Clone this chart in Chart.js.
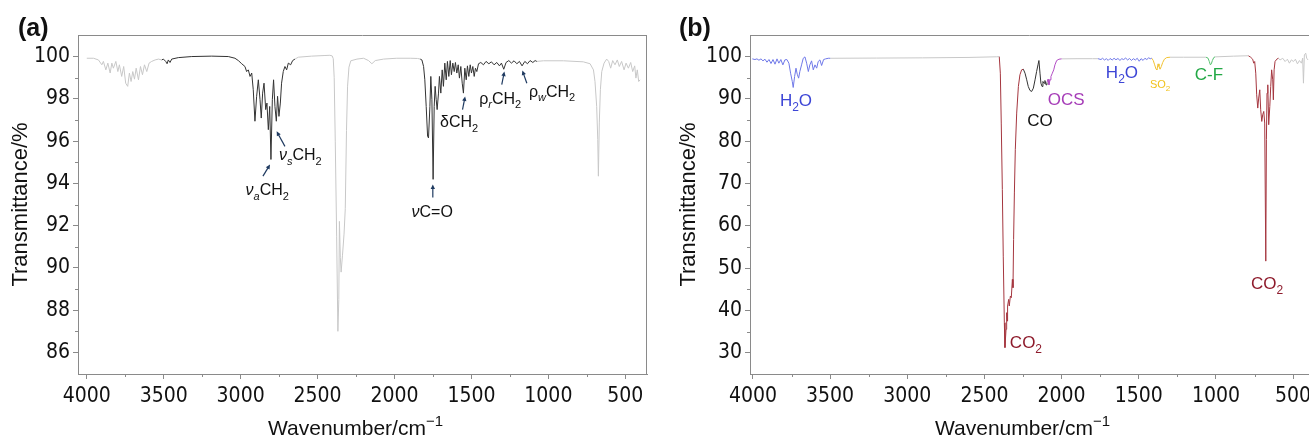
<!DOCTYPE html>
<html>
<head>
<meta charset="utf-8">
<script src="https://cdn.jsdelivr.net/npm/chart.js@4.4.1/dist/chart.umd.min.js"></script>
<style>
  body { margin: 0; background: #fff; }
  #wrap { position: relative; width: 1309px; height: 440px; overflow: hidden; }
  canvas { position: absolute; top: 0; }
  .tag { position: absolute; top: 13px; font: bold 25px "Liberation Sans", Arial, sans-serif; color: #111; }
</style>
</head>
<body>
<div id="wrap">
  <canvas id="chartA" width="655" height="440" style="left:0"></canvas>
  <canvas id="chartB" width="654" height="440" style="left:655px"></canvas>
  <div class="tag" style="left:18px">(a)</div>
  <div class="tag" style="left:679px">(b)</div>
</div>
<script>
// tick values
const xTicks = [4000, 3500, 3000, 2500, 2000, 1500, 1000, 500];
const xMinor = [3750, 3250, 2750, 2250, 1750, 1250, 750];
const yTicksA = [86, 88, 90, 92, 94, 96, 98, 100];
const yMinorA = [87, 89, 91, 93, 95, 97, 99];
const yTicksB = [30, 40, 50, 60, 70, 80, 90, 100];
const yMinorB = [35, 45, 55, 65, 75, 85, 95];

// panel (a) spectrum, [wavenumber, transmittance] split by colour
const grayA1 = [[4000,99.92],[3956,99.92],[3924,99.84],[3902,99.61],[3892,99.77],[3876,99.37],[3863,99.69],[3848,99.22],[3837,99.69],[3827,99.45],[3811,99.77],[3798,99.29],[3788,99.61],[3773,99.06],[3760,99.53],[3747,98.74],[3734,98.59],[3723,99.22],[3712,98.82],[3701,99.29],[3690,98.93],[3679,99.45],[3664,98.9],[3651,99.53],[3638,99.14],[3625,99.61],[3610,99.29],[3595,99.69],[3578,99.77],[3556,99.84],[3534,99.88],[3513,99.84]];
const darkA1 = [[3513,99.84],[3502,99.88],[3487,99.77],[3478,99.66],[3470,99.84],[3459,99.72],[3448,99.88],[3405,99.95],[3318,100.0],[3188,100.02],[3080,100.0],[3037,99.92],[3015,99.81],[2993,99.66],[2972,99.53],[2961,99.29],[2950,99.37],[2939,99.06],[2928,99.22],[2918,98.43],[2907,96.94],[2896,98.12],[2885,98.9],[2874,97.96],[2866,97.09],[2857,98.27],[2848,98.74],[2837,97.49],[2829,97.8],[2820,96.54],[2811,97.64],[2803,95.13],[2794,97.96],[2786,98.9],[2777,97.64],[2768,96.94],[2760,98.12],[2751,97.17],[2742,97.8],[2734,98.74],[2723,99.29],[2712,99.53],[2701,99.37],[2690,99.69],[2675,99.61],[2662,99.81],[2647,99.88]];
const grayA2 = [[2647,99.88],[2625,99.97],[2539,100.02],[2452,100.05],[2420,100.06],[2405,100.03],[2398,99.9],[2392,99.0],[2385,96.0],[2376,91.5],[2368,87.0],[2362,88.5],[2358,92.2],[2352,90.5],[2347,89.8],[2338,90.6],[2328,91.6],[2320,92.8],[2312,96.5],[2305,98.6],[2296,99.5],[2284,99.8],[2244,99.88],[2201,99.92],[2169,99.81],[2147,99.66],[2125,99.81],[2071,99.88],[1985,99.92],[1898,99.92],[1850,99.91],[1833,99.88]];
const darkA2 = [[1833,99.88],[1822,99.84],[1811,99.53],[1803,98.9],[1794,97.64],[1785,96.23],[1779,96.15],[1770,97.64],[1764,99.06],[1757,97.96],[1749,94.19],[1742,97.64],[1736,98.59],[1729,97.96],[1723,97.49],[1714,98.27],[1708,99.06],[1699,98.27],[1690,99.37],[1682,98.59],[1673,99.69],[1664,98.9],[1656,99.77],[1647,99.06],[1638,99.81],[1630,99.14],[1621,99.69],[1612,99.29],[1604,99.72],[1595,99.22],[1586,99.61],[1578,98.98],[1569,99.53],[1560,98.74],[1552,98.27],[1543,99.45],[1534,98.9],[1526,99.56],[1517,99.06],[1508,99.61],[1500,99.22],[1491,99.53],[1482,99.06],[1474,99.45],[1465,99.29],[1454,99.66],[1439,99.72],[1422,99.61],[1405,99.77],[1387,99.66],[1370,99.75],[1353,99.61],[1335,99.72],[1318,99.56],[1305,99.69],[1290,99.4],[1275,99.72],[1257,99.81],[1240,99.69],[1223,99.8],[1205,99.66],[1188,99.77],[1171,99.56],[1153,99.77],[1136,99.66],[1119,99.81],[1101,99.72],[1086,99.81],[1075,99.77]];
const grayA3 = [[1075,99.77],[1032,99.8],[902,99.8],[773,99.75],[729,99.66],[707,99.37],[697,98.82],[686,97.64],[679,96.07],[675,94.34],[669,96.86],[662,98.43],[653,99.29],[638,99.69],[621,99.88],[608,99.77],[595,99.45],[582,99.81],[567,99.61],[552,99.84],[539,99.53],[524,99.77],[508,99.37],[495,99.69],[480,99.45],[465,99.72],[452,99.29],[439,99.56],[431,98.98],[422,99.37],[413,98.82],[404,98.9]];

// panel (b) spectrum, split by assigned species
const blueB1 = [[4004,99.46],[3987,99.3],[3974,99.46],[3961,99.14],[3948,99.46],[3935,98.99],[3922,99.38],[3909,98.67],[3896,99.3],[3883,98.36],[3870,99.3],[3857,98.2],[3844,99.46],[3832,98.44],[3819,99.3],[3806,98.04],[3793,99.22],[3780,99.3],[3767,98.44],[3756,96.08],[3745,94.11],[3739,92.7],[3730,95.29],[3721,97.26],[3713,95.84],[3704,94.9],[3696,96.47],[3685,98.04],[3674,99.6],[3663,99.93],[3652,98.44],[3641,96.47],[3631,98.04],[3620,98.99],[3609,96.87],[3598,98.04],[3587,97.26],[3577,98.83],[3566,99.22],[3555,97.89],[3542,99.3],[3529,99.46],[3512,99.6],[3499,99.6]];
const grayB1 = [[3499,99.6],[3200,99.65],[2900,99.7],[2600,99.8],[2420,99.95],[2404,100.0]];
const redB1 = [[2404,100.0],[2397,96.08],[2391,84.29],[2384,68.57],[2378,52.85],[2371,37.13],[2367,31.25],[2360,35.56],[2356,39.49],[2352,37.5],[2350,41.06],[2343,42.63],[2339,41.06],[2332,43.42],[2326,43.03],[2319,47.35],[2315,45.4],[2311,56.78],[2306,67.78],[2300,78.0],[2291,86.65],[2280,92.94],[2270,95.69],[2259,96.87],[2248,97.02]];
const blackB1 = [[2248,97.02],[2237,96.08],[2226,94.51],[2216,92.94],[2205,92.0],[2194,91.76],[2183,92.54],[2172,94.51],[2162,96.47],[2153,98.05],[2147,99.07],[2140,96.08],[2134,93.72],[2127,92.94],[2121,94.12],[2114,93.72],[2108,94.35],[2101,93.33],[2095,93.88]];
const purpleB1 = [[2095,93.88],[2088,94.66],[2082,93.33],[2075,94.51],[2069,95.29],[2060,96.08],[2051,96.87],[2043,98.05],[2032,99.07],[2017,99.38],[2000,99.46]];
const grayB2 = [[2000,99.46],[1900,99.5],[1800,99.5],[1764,99.5]];
const blueB2 = [[1764,99.5],[1745,99.3],[1735,99.6],[1722,99.2],[1710,99.5],[1698,99.1],[1686,99.55],[1672,99.2],[1660,99.6],[1648,99.25],[1635,99.55],[1622,99.1],[1610,99.5],[1598,99.3],[1585,99.65],[1572,99.2],[1560,99.55],[1547,99.1],[1535,99.5],[1522,99.2],[1510,99.6],[1497,98.9],[1485,99.5],[1472,99.1],[1460,99.6],[1448,99.3],[1436,99.7],[1425,99.5],[1416,99.62]];
const yellowB1 = [[1416,99.62],[1406,99.07],[1397,98.05],[1388,97.02],[1382,96.87],[1375,98.28],[1369,97.65],[1362,97.02],[1354,97.65],[1345,98.6],[1334,99.38],[1319,99.77],[1297,99.85]];
const grayB3 = [[1297,99.85],[1211,99.85],[1064,99.85]];
const greenB1 = [[1064,99.85],[1051,99.62],[1043,98.83],[1036,98.05],[1030,98.28],[1023,99.07],[1014,99.77],[1006,99.93]];
const grayB4 = [[1006,99.93],[887,100.1],[790,100.2]];
const redB2 = [[790,100.2],[775,99.85],[762,99.38],[755,98.44],[749,98.83],[742,96.08],[736,90.97],[729,87.83],[723,90.2],[716,92.15],[710,87.43],[703,84.68],[697,86.25],[690,87.04],[684,84.29],[677,51.67],[673,80.36],[669,91.36],[664,93.33],[658,83.9],[651,88.22],[645,92.94],[639,96.87],[632,94.51],[628,89.79],[623,96.87],[617,98.83],[606,99.38],[595,99.62]];
const grayB5 = [[595,99.62],[585,99.2],[567,99.6],[552,98.83],[537,99.38],[524,98.44],[511,99.23],[498,98.83],[485,99.38],[472,98.28],[459,99.07],[446,98.44],[438,99.62],[433,93.72],[427,100.4],[418,100.8],[412,99.62],[403,99.2]];

// band labels: parts are [text, style] with i = italic, s = subscript, u = superscript
const notesA = [
  { parts: [['ν','i'],['a','si'],['CH',''],['2','s']], wn: 2827, t: 93.71, from: [2855, 94.34], to: [2809, 94.89] },
  { parts: [['ν','i'],['s','si'],['CH',''],['2','s']], wn: 2612, t: 95.36, from: [2712, 95.75], to: [2766, 96.46] },
  { parts: [['ν','i'],['C=O','']], wn: 1755, t: 92.67, from: [1751, 93.33], to: [1751, 93.95] },
  { parts: [['δCH',''],['2','s']], wn: 1580, t: 96.92, from: [1558, 97.49], to: [1541, 98.11] },
  { parts: [['ρ',''],['r','si'],['CH',''],['2','s']], wn: 1313, t: 98.05, from: [1303, 98.67], to: [1286, 99.29] },
  { parts: [['ρ',''],['w','si'],['CH',''],['2','s']], wn: 976, t: 98.38, from: [1140, 98.74], to: [1169, 99.34] }
];
const notesB = [
  { parts: [['H',''],['2','s'],['O','']], wn: 3721, t: 89.8, color: '#3d46d6' },
  { parts: [['CO','']], wn: 2140, t: 85.07, color: '#111' },
  { parts: [['OCS','']], wn: 1971, t: 90.0, color: '#a63db8' },
  { parts: [['H',''],['2','s'],['O','']], wn: 1609, t: 96.4, color: '#3d46d6' },
  { parts: [['SO',''],['2','s']], wn: 1362, t: 93.56, color: '#f2c21b', size: 11 },
  { parts: [['C-F','']], wn: 1045, t: 95.92, color: '#22a845' },
  { parts: [['CO',''],['2','s']], wn: 2231, t: 32.5, color: '#8e1b2c' },
  { parts: [['CO',''],['2','s']], wn: 669, t: 46.6, color: '#8e1b2c' }
];
const xTitle = [['Wavenumber/cm',''],['−1','u']];

const FONT = '"Liberation Sans", Arial, sans-serif';
const NARROW = '"Liberation Sans Narrow", "DejaVu Sans Condensed", Arial, sans-serif';
const AXIS = '#8a8a8a';

const toXY = arr => arr.map(p => ({ x: p[0], y: p[1] }));
const line = (arr, color) => ({
  data: toXY(arr), borderColor: color, borderWidth: 1, pointRadius: 0, fill: false, tension: 0
});

function drawRich(ctx, parts, cx, cy, size, color) {
  const small = p => p[1].includes('s') || p[1].includes('u');
  const fontOf = p => (p[1].includes('i') ? 'italic ' : '') + (small(p) ? Math.round(size * 0.7) : size) + 'px ' + FONT;
  let w = 0;
  parts.forEach(p => { ctx.font = fontOf(p); w += ctx.measureText(p[0]).width; });
  let x = cx - w / 2;
  const base = cy + size * 0.36;
  ctx.fillStyle = color;
  ctx.textBaseline = 'alphabetic';
  ctx.textAlign = 'left';
  parts.forEach(p => {
    ctx.font = fontOf(p);
    let dy = 0;
    if (p[1].includes('s')) dy = size * 0.3;
    if (p[1].includes('u')) dy = -size * 0.42;
    ctx.fillText(p[0], x, base + dy);
    x += ctx.measureText(p[0]).width;
  });
}

// minor ticks, plot frame, axis title with superscript and band labels
const extras = {
  id: 'extras',
  afterDraw(chart, args, opts) {
    const { ctx, chartArea: a, scales: { x, y } } = chart;
    ctx.save();
    ctx.strokeStyle = AXIS;
    ctx.lineWidth = 1;
    ctx.beginPath();
    opts.xMinor.forEach(v => {
      const px = Math.round(x.getPixelForValue(v)) + 0.5;
      ctx.moveTo(px, a.bottom); ctx.lineTo(px, a.bottom + 3);
    });
    opts.yMinor.forEach(v => {
      const py = Math.round(y.getPixelForValue(v)) + 0.5;
      ctx.moveTo(a.left - 3, py); ctx.lineTo(a.left, py);
    });
    ctx.moveTo(a.left, Math.round(a.top) + 0.5); ctx.lineTo(a.right, Math.round(a.top) + 0.5);
    if (opts.rightEdge) {
      ctx.moveTo(Math.round(a.right) - 0.5, a.top); ctx.lineTo(Math.round(a.right) - 0.5, a.bottom);
    }
    ctx.stroke();

    drawRich(ctx, xTitle, (a.left + a.right) / 2 - 7, 427, 21, '#111');

    opts.notes.forEach(n => {
      if (n.from) {
        const x1 = x.getPixelForValue(n.from[0]), y1 = y.getPixelForValue(n.from[1]);
        const x2 = x.getPixelForValue(n.to[0]), y2 = y.getPixelForValue(n.to[1]);
        const ang = Math.atan2(y2 - y1, x2 - x1);
        ctx.strokeStyle = '#1f3a60';
        ctx.fillStyle = '#1f3a60';
        ctx.lineWidth = 1.2;
        ctx.beginPath(); ctx.moveTo(x1, y1); ctx.lineTo(x2 - 3 * Math.cos(ang), y2 - 3 * Math.sin(ang)); ctx.stroke();
        ctx.beginPath();
        ctx.moveTo(x2, y2);
        ctx.lineTo(x2 - 5 * Math.cos(ang - 0.45), y2 - 5 * Math.sin(ang - 0.45));
        ctx.lineTo(x2 - 5 * Math.cos(ang + 0.45), y2 - 5 * Math.sin(ang + 0.45));
        ctx.closePath(); ctx.fill();
      }
      drawRich(ctx, n.parts, x.getPixelForValue(n.wn), y.getPixelForValue(n.t), n.size || opts.size, n.color || '#111');
    });
    ctx.restore();
  }
};

// keep the plot area where the figure has it, whatever the edge labels need
const noPad = s => { s.paddingLeft = 0; s.paddingRight = 0; s.paddingTop = 0; s.paddingBottom = 0; };

function makeChart(id, datasets, cfg) {
  const tickFont = { family: NARROW, size: 21 };
  return new Chart(document.getElementById(id), {
    type: 'line',
    data: { datasets },
    plugins: [extras],
    options: {
      responsive: false,
      animation: false,
      parsing: false,
      events: [],
      layout: { padding: { left: 0, right: cfg.padRight, top: 35, bottom: 0 } },
      plugins: {
        legend: { display: false },
        tooltip: { enabled: false },
        extras: { xMinor, yMinor: cfg.yMinor, notes: cfg.notes, size: cfg.noteSize, rightEdge: cfg.rightEdge }
      },
      scales: {
        x: {
          type: 'linear',
          reverse: true,
          min: cfg.xMin,
          max: cfg.xMax,
          afterBuildTicks: s => { s.ticks = xTicks.map(v => ({ value: v })); },
          afterFit: s => { s.height = 66; noPad(s); },
          ticks: { callback: v => String(v), font: tickFont, color: '#111', padding: 5, maxRotation: 0, autoSkip: false },
          grid: { drawOnChartArea: false, tickLength: 5, color: AXIS },
          border: { color: AXIS }
        },
        y: {
          type: 'linear',
          min: cfg.yMin,
          max: cfg.yMax,
          afterBuildTicks: s => { s.ticks = cfg.yTicks.map(v => ({ value: v })); },
          afterFit: s => { s.width = cfg.yWidth; noPad(s); },
          ticks: { callback: v => String(v), font: tickFont, color: '#111', padding: 3, autoSkip: false },
          grid: { drawOnChartArea: false, tickLength: 5, color: AXIS },
          border: { color: AXIS },
          title: { display: true, text: 'Transmittance/%', font: { family: FONT, size: 22 }, color: '#111', padding: { top: cfg.titlePad, bottom: 0 } }
        }
      }
    }
  });
}

const GRAY = '#c8c8c8';
const DARK = '#333333';

makeChart('chartA', [
  line(grayA1, GRAY), line(darkA1, DARK), line(grayA2, GRAY), line(darkA2, DARK), line(grayA3, GRAY)
], {
  xMin: 359, xMax: 4057, yMin: 84.98, yMax: 101.02, yTicks: yTicksA, yMinor: yMinorA,
  yWidth: 78, titlePad: 8, padRight: 8, notes: notesA, noteSize: 16, rightEdge: true
});

makeChart('chartB', [
  line(blueB1, '#6f78e8'), line(grayB1, GRAY), line(redB1, '#a5363f'), line(blackB1, '#333'),
  line(purpleB1, '#b24cc4'), line(grayB2, GRAY), line(blueB2, '#6f78e8'), line(yellowB1, '#f1c232'),
  line(grayB3, GRAY), line(greenB1, '#55c06e'), line(grayB4, GRAY), line(redB2, '#a5363f'), line(grayB5, GRAY)
], {
  xMin: 397, xMax: 4019, yMin: 25, yMax: 105.1, yTicks: yTicksB, yMinor: yMinorB,
  yWidth: 95, titlePad: 21, padRight: 0, notes: notesB, noteSize: 17, rightEdge: false
});
</script>
</body>
</html>
